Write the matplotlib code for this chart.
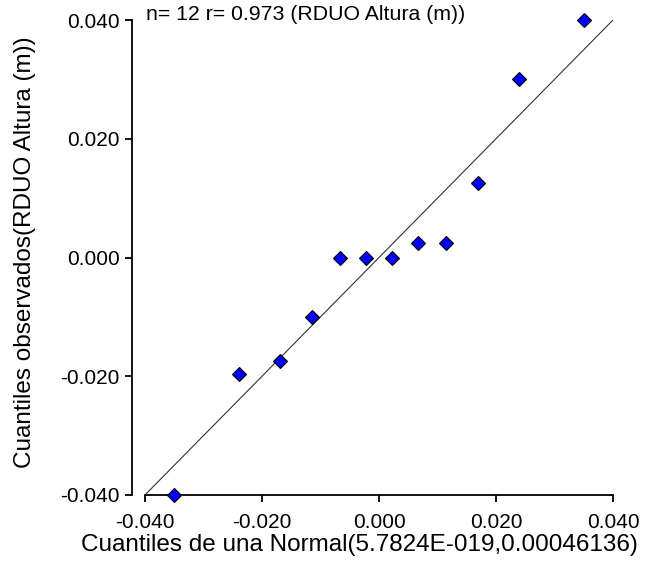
import numpy as np
import matplotlib
matplotlib.use("Agg")
import matplotlib.pyplot as plt
from matplotlib.ticker import FormatStrFormatter

plt.rcParams['font.family'] = ['Liberation Sans', 'DejaVu Sans']
plt.rcParams['axes.unicode_minus'] = False

# theoretical normal quantiles (x) and observed quantiles (y)
teoricos = [-0.0351, -0.0239, -0.0170, -0.0115, -0.0067, -0.0022,
            0.0022, 0.0067, 0.0115, 0.0170, 0.0239, 0.0351]
observados = [-0.0400, -0.0197, -0.0174, -0.0100, 0.0000, 0.0000,
              0.0000, 0.0025, 0.0025, 0.0126, 0.0300, 0.0400]
ticks = [-0.040, -0.020, 0.000, 0.020, 0.040]

W, H = 651, 576
fig = plt.figure(figsize=(W/100, H/100), dpi=100)
ax = fig.add_axes([145/W, 1 - 495/H, (613-145)/W, (495-20)/H])

ax.plot([-0.040, 0.040], [-0.040, 0.040], color='#333333', lw=0.8, zorder=1)
ax.plot(teoricos, observados, linestyle='none', marker='D', ms=7,
        mfc='#0000ff', mec='black', mew=0.8, zorder=3, clip_on=False)

ax.set_xlim(-0.040, 0.040)
ax.set_ylim(-0.040, 0.040)
ax.set_xticks(ticks)
ax.set_yticks(ticks)
ax.xaxis.set_major_formatter(FormatStrFormatter('%.3f'))
ax.yaxis.set_major_formatter(FormatStrFormatter('%.3f'))

ax.spines['top'].set_visible(False)
ax.spines['right'].set_visible(False)
ax.spines['left'].set_position(('outward', 9.4))
ax.spines['left'].set_linewidth(1.3)
ax.spines['bottom'].set_linewidth(1.3)
ax.tick_params(direction='out', length=5, width=1.3, labelsize=15)
ax.tick_params(axis='x', pad=8)
ax.tick_params(axis='y', pad=4)

ax.set_xlabel('Cuantiles de una Normal(5.7824E-019,0.00046136)', fontsize=17.5, va='center')
ax.xaxis.set_label_coords(359/W, 1 - 545/H, transform=fig.transFigure)
ax.set_ylabel('Cuantiles observados(RDUO Altura (m))', fontsize=17.5, va='center')
ax.yaxis.set_label_coords(25/W, 1 - 252/H, transform=fig.transFigure)

fig.text(146/W, 1 - 14/H, 'n= 12 r= 0.973 (RDUO Altura (m))',
         fontsize=15.3, ha='left', va='center')

fig.savefig('out.png', dpi=100)
